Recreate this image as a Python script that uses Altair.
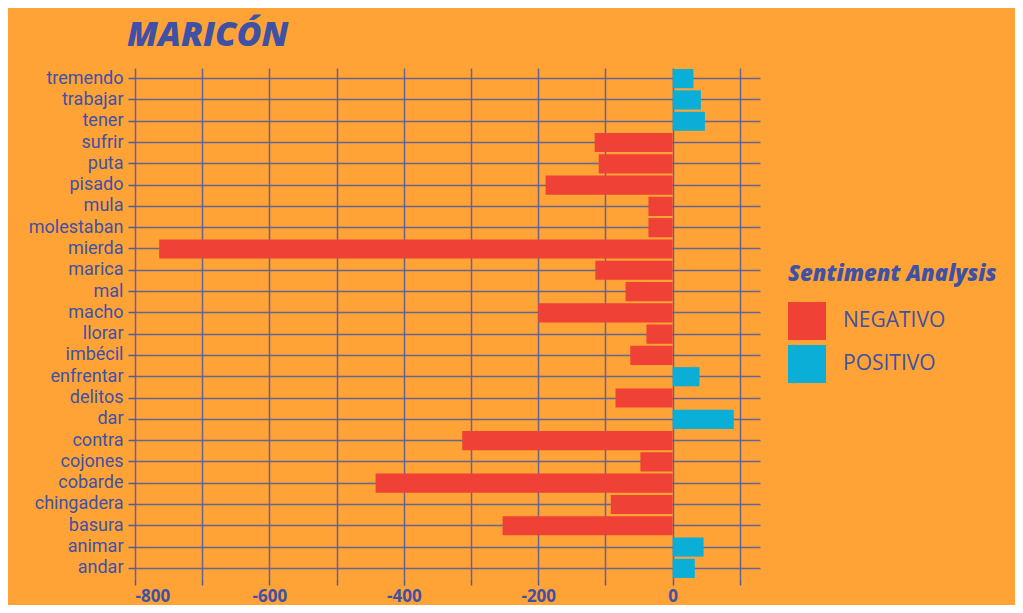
import altair as alt
import pandas as pd

words = ["tremendo", "trabajar", "tener", "sufrir", "puta", "pisado", "mula",
         "molestaban", "mierda", "marica", "mal", "macho", "llorar", "imbécil",
         "enfrentar", "delitos", "dar", "contra", "cojones", "cobarde",
         "chingadera", "basura", "animar", "andar"]
values = [31, 42, 48, -116, -110, -189, -36,
          -36, -764, -115, -70, -200, -39, -63,
          40, -85, 91, -313, -48, -442,
          -92, -253, 46, 33]
sentiments = ["NEGATIVO" if v < 0 else "POSITIVO" for v in values]

x_ticks = [-800, -700, -600, -500, -400, -300, -200, -100, 0, 100]
categories = ["NEGATIVO", "POSITIVO"]
colors = ["#EF4136", "#0AAED7"]

df = pd.DataFrame({"word": words, "value": values, "sentiment": sentiments})

TXT = "#3F51A5"
GRID = "#4F5AA3"
BG = "#FFA336"

chart = alt.Chart(df).mark_bar(opacity=1).encode(
    y=alt.Y("word:N", sort="descending", title=None,
            scale=alt.Scale(paddingInner=0.1, paddingOuter=0.05),
            axis=alt.Axis(bandPosition=0.5, domain=False, grid=True,
                          gridColor=GRID, gridOpacity=0.85, gridWidth=1.5,
                          tickColor=GRID, tickSize=7, tickWidth=1.5,
                          labelColor=TXT, labelFont="Roboto", labelFontSize=18,
                          labelPadding=5)),
    x=alt.X("value:Q", title=None,
            scale=alt.Scale(domain=[-800, 130], nice=False, zero=False),
            axis=alt.Axis(values=x_ticks, domain=False, grid=True,
                          gridColor=GRID, gridOpacity=0.85, gridWidth=1.5,
                          tickColor=GRID, tickSize=6, tickWidth=1.5,
                          labelExpr="datum.value % 200 == 0 ? '' + datum.value : ''",
                          labelColor=TXT, labelFont="Open Sans", labelFontSize=17,
                          labelFontWeight="bold", labelPadding=3)),
    color=alt.Color("sentiment:N", title="Sentiment Analysis",
                    scale=alt.Scale(domain=categories, range=colors),
                    legend=alt.Legend(orient="none", legendX=653, legendY=196,
                                      titleFont="Open Sans", titleFontSize=22,
                                      titleFontWeight=800, titleFontStyle="italic",
                                      titleColor=TXT, titlePadding=16, titleLimit=400,
                                      symbolType="square", symbolSize=1444,
                                      symbolStrokeWidth=0, symbolOpacity=1,
                                      labelFont="Open Sans", labelFontSize=21,
                                      labelLimit=300,
                                      labelColor=TXT, labelOffset=17, rowPadding=5)),
).properties(
    width=625, height=511,
    title=alt.TitleParams("MARICÓN", anchor="start", frame="group", dx=-8, offset=15,
                          font="Open Sans", fontSize=34, fontWeight=800,
                          fontStyle="italic", color=TXT),
    autosize=alt.AutoSizeParams(type="none"),
    padding={"left": 127, "top": 60, "right": 255, "bottom": 26},
    background=BG,
).configure_view(stroke=None)

chart.save("out.html", embed_options={"renderer": "svg", "actions": False})
